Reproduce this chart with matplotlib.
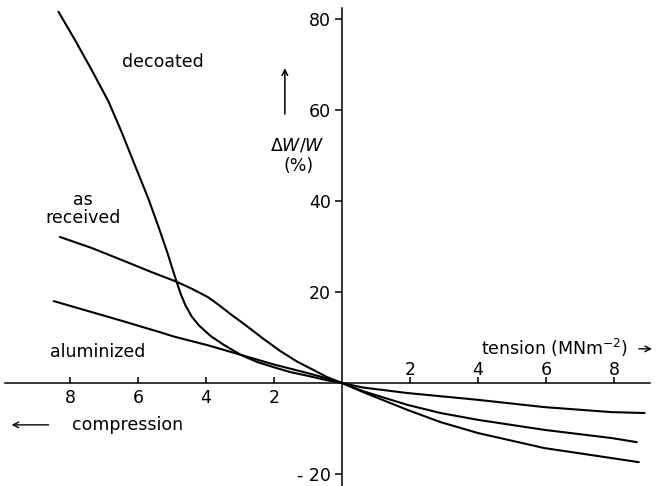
import matplotlib
matplotlib.use("Agg")
import matplotlib.pyplot as plt

plt.rcParams['mathtext.fontset'] = 'dejavusans'

# compression plotted as negative stress (MN m^-2), tension positive; dW/W in %
decoated_x = [-8.34, -7.87, -7.37, -6.87, -6.49, -6.11, -5.70, -5.41, -5.12, -5.03, -4.88, -4.74,
              -4.60, -4.42, -4.20, -3.86, -3.48, -2.98, -2.49, -2.02, -1.52, -1.02, -0.44, 0.0,
              0.62, 1.92, 2.9, 4.0, 5.95, 7.93, 8.67]
decoated_y = [81.6, 75.6, 68.9, 61.9, 55.3, 48.2, 40.6, 34.6, 28.3, 26.1, 22.6, 19.5,
              17.0, 14.6, 12.6, 10.3, 8.4, 6.2, 4.6, 3.5, 2.4, 1.6, 0.6, 0.0,
              -1.8, -4.8, -6.6, -8.1, -10.3, -12.1, -13.0]

received_x = [-8.30, -7.37, -6.40, -5.61, -4.88, -4.44, -3.95, -3.65, -3.27, -2.78, -2.31,
              -1.81, -1.32, -0.85, -0.44, 0.0,
              0.62, 1.92, 2.9, 4.0, 5.95, 7.93, 8.73]
received_y = [32.1, 29.7, 26.8, 24.4, 22.3, 20.8, 18.9, 17.3, 15.1, 12.4, 9.7,
              7.0, 4.7, 2.9, 1.3, 0.0,
              -2.0, -5.9, -8.6, -11.0, -14.3, -16.5, -17.4]

aluminized_x = [-8.48, -7.37, -6.40, -5.91, -5.41, -4.94, -3.95, -2.98, -2.02, -1.02, -0.44, 0.0,
                0.62, 1.92, 4.0, 5.95, 7.93, 8.9]
aluminized_y = [18.0, 15.6, 13.5, 12.4, 11.3, 10.2, 8.3, 6.2, 4.1, 2.2, 1.0, 0.0,
                -1.0, -2.2, -3.7, -5.3, -6.4, -6.6]

y_ticks = [80, 60, 40, 20, -20]
x_ticks_comp = [-8, -6, -4, -2]
x_ticks_tens = [2, 4, 6, 8]

fig = plt.figure(figsize=(6.57, 4.86), dpi=100)
ax = fig.add_axes([0, 0, 1, 1])
ax.set_xlim(-342/34.0, (657-342)/34.0)
ax.set_ylim(-(486-383)/4.55, 383/4.55)

lw = 1.5
for xs, ys in [(decoated_x, decoated_y), (received_x, received_y), (aluminized_x, aluminized_y)]:
    ax.plot(xs, ys, color='black', lw=lw, solid_capstyle='round', solid_joinstyle='round')

for s in ['top', 'right']:
    ax.spines[s].set_visible(False)
ax.spines['left'].set_position(('data', 0))
ax.spines['bottom'].set_position(('data', 0))
ax.spines['left'].set_bounds(-22.6, 82.5)
ax.spines['bottom'].set_bounds(-9.9, 9.05)
ax.spines['left'].set_linewidth(1.1)
ax.spines['bottom'].set_linewidth(1.1)

fs = 12.5
fam = 'DejaVu Sans'
ax.set_yticks(y_ticks)
ax.set_yticklabels([f"{v}" if v > 0 else f"- {abs(v)}" for v in y_ticks], fontsize=fs, family=fam)
ax.tick_params(axis='y', direction='out', length=5, width=1.1, pad=3)

ax.set_xticks(x_ticks_comp + x_ticks_tens)
ax.set_xticklabels([])
ax.tick_params(axis='x', direction='in', length=4, width=1.1)

for v in x_ticks_comp:
    ax.text(v, -3.3, f"{abs(v)}", ha='center', va='center', fontsize=fs, family=fam)
for v in x_ticks_tens:
    ax.text(v, 2.9, f"{v}", ha='center', va='center', fontsize=fs, family=fam)

ax.text(-5.26, 70.5, "decoated", fontsize=fs, family=fam, ha='center', va='center')
ax.text(-7.62, 38.2, "as\nreceived", fontsize=fs, family=fam, ha='center', va='center', linespacing=1.0)
ax.text(-7.18, 6.8, "aluminized", fontsize=fs, family=fam, ha='center', va='center')
ax.text(6.25, 7.8, r"tension (MNm$^{-2}$)", fontsize=fs, family=fam, ha='center', va='center')
ax.annotate("", xy=(9.2, 7.5), xytext=(8.65, 7.5),
            arrowprops=dict(arrowstyle='->', lw=1.0, color='black'), annotation_clip=False)
ax.text(-6.32, -9.2, "compression", fontsize=fs, family=fam, ha='center', va='center')
ax.annotate("", xy=(-9.8, -9.2), xytext=(-8.55, -9.2),
            arrowprops=dict(arrowstyle='->', lw=1.0, color='black'))
ax.annotate("", xy=(-1.68, 69.8), xytext=(-1.68, 58.5),
            arrowprops=dict(arrowstyle='->', lw=1.1, color='black'))
ax.text(-1.32, 52.3, r"$\Delta W/W$", fontsize=fs, ha='center', va='center')
ax.text(-1.29, 47.6, "(%)", fontsize=fs, family=fam, ha='center', va='center')

fig.savefig("out.png", dpi=100)
